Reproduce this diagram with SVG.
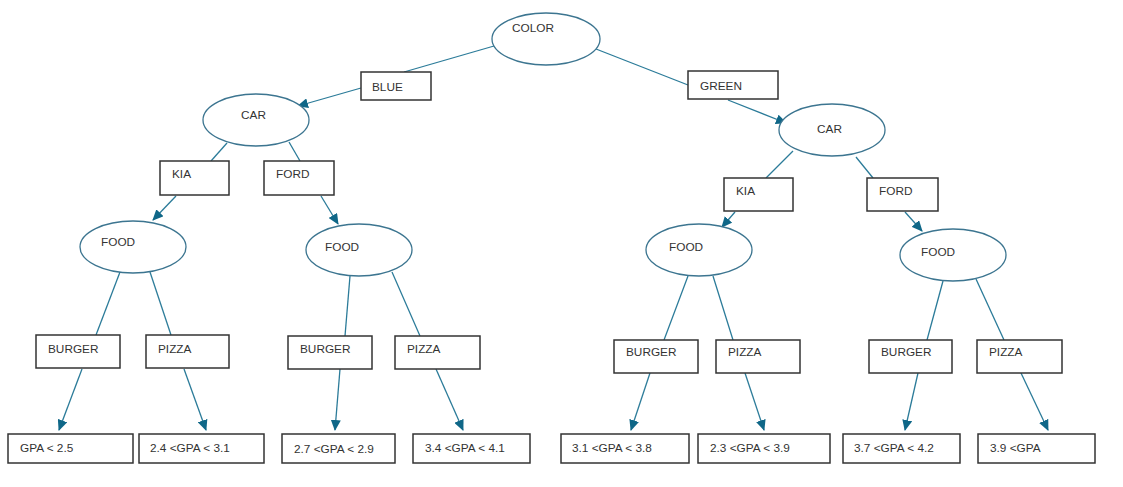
<svg xmlns="http://www.w3.org/2000/svg" width="1123" height="487" viewBox="0 0 1123 487">
<defs>
<style>
.e{fill:#fff;stroke:#3c7590;stroke-width:1.3}
.b{fill:#fff;stroke:#333;stroke-width:1.5}
.t{font-family:"Liberation Sans",Arial,sans-serif;font-size:11.8px;fill:#333}
.c line{stroke:#2b7b99;stroke-width:1.3}
.a{marker-end:url(#arr)}
</style>
<marker id="arr" markerWidth="11" markerHeight="10" refX="10" refY="5" orient="auto" markerUnits="userSpaceOnUse">
<path d="M0,0 L11,5 L0,10 Z" fill="#0f6788"/>
</marker>
</defs>
<rect width="1123" height="487" fill="#fff"/>
<g class="c" id="connectors">
<line x1="494" y1="46" x2="404" y2="72"/>
<line class="a" x1="361" y1="88" x2="298" y2="106"/>
<line x1="596" y1="49" x2="688" y2="85"/>
<line class="a" x1="728" y1="100" x2="786" y2="123"/>
<line x1="227" y1="143" x2="211" y2="161"/>
<line class="a" x1="176" y1="196" x2="153" y2="220"/>
<line x1="289" y1="142" x2="300" y2="161"/>
<line class="a" x1="321" y1="196" x2="338" y2="224"/>
<line x1="793" y1="151" x2="766" y2="178"/>
<line class="a" x1="735" y1="212" x2="722" y2="227"/>
<line x1="856" y1="157" x2="873" y2="178"/>
<line class="a" x1="905" y1="212" x2="922" y2="231"/>
<line x1="120" y1="272" x2="96" y2="335"/>
<line x1="150" y1="272" x2="171" y2="335"/>
<line class="a" x1="82" y1="369" x2="59" y2="430"/>
<line class="a" x1="184" y1="369" x2="206" y2="430"/>
<line x1="350" y1="276" x2="345" y2="336"/>
<line x1="392" y1="272" x2="420" y2="336"/>
<line class="a" x1="340" y1="369" x2="335" y2="430"/>
<line class="a" x1="436" y1="369" x2="463" y2="430"/>
<line x1="688" y1="276" x2="664" y2="340"/>
<line x1="713" y1="276" x2="733" y2="340"/>
<line class="a" x1="650" y1="373" x2="631" y2="430"/>
<line class="a" x1="745" y1="373" x2="764" y2="430"/>
<line x1="943" y1="281" x2="927" y2="340"/>
<line x1="976" y1="279" x2="1004" y2="340"/>
<line class="a" x1="918" y1="373" x2="905" y2="430"/>
<line class="a" x1="1021" y1="373" x2="1048" y2="430"/>
</g>
<g id="color"><ellipse class="e" cx="546" cy="39" rx="54" ry="26"/><text class="t" x="512" y="32">COLOR</text></g>
<g id="blue"><rect class="b" x="361" y="72" width="70" height="28"/><text class="t" x="372" y="91">BLUE</text></g>
<g id="green"><rect class="b" x="688" y="71" width="90" height="28"/><text class="t" x="700" y="90">GREEN</text></g>
<g id="car1"><ellipse class="e" cx="256" cy="120" rx="53" ry="26"/><text class="t" x="241" y="119">CAR</text></g>
<g id="car2"><ellipse class="e" cx="832" cy="130" rx="53" ry="26"/><text class="t" x="817" y="133">CAR</text></g>
<g id="kia1"><rect class="b" x="160" y="161" width="69" height="34"/><text class="t" x="172" y="178">KIA</text></g>
<g id="ford1"><rect class="b" x="264" y="161" width="70" height="34"/><text class="t" x="276" y="178">FORD</text></g>
<g id="kia2"><rect class="b" x="724" y="178" width="69" height="33"/><text class="t" x="736" y="195">KIA</text></g>
<g id="ford2"><rect class="b" x="867" y="178" width="71" height="33"/><text class="t" x="879" y="195">FORD</text></g>
<g id="food1"><ellipse class="e" cx="133" cy="247" rx="53" ry="26"/><text class="t" x="101" y="246">FOOD</text></g>
<g id="food2"><ellipse class="e" cx="359" cy="250" rx="53" ry="26"/><text class="t" x="325" y="251">FOOD</text></g>
<g id="food3"><ellipse class="e" cx="699" cy="250" rx="53" ry="26"/><text class="t" x="669" y="251">FOOD</text></g>
<g id="food4"><ellipse class="e" cx="953" cy="255" rx="53" ry="26"/><text class="t" x="921" y="256">FOOD</text></g>
<g id="burger1"><rect class="b" x="36" y="335" width="84" height="33"/><text class="t" x="48" y="353">BURGER</text></g>
<g id="pizza1"><rect class="b" x="146" y="335" width="83" height="33"/><text class="t" x="158" y="353">PIZZA</text></g>
<g id="burger2"><rect class="b" x="288" y="336" width="84" height="33"/><text class="t" x="300" y="353">BURGER</text></g>
<g id="pizza2"><rect class="b" x="395" y="336" width="85" height="33"/><text class="t" x="407" y="353">PIZZA</text></g>
<g id="burger3"><rect class="b" x="614" y="340" width="84" height="33"/><text class="t" x="626" y="356">BURGER</text></g>
<g id="pizza3"><rect class="b" x="716" y="340" width="84" height="33"/><text class="t" x="728" y="356">PIZZA</text></g>
<g id="burger4"><rect class="b" x="869" y="340" width="83" height="33"/><text class="t" x="881" y="356">BURGER</text></g>
<g id="pizza4"><rect class="b" x="977" y="340" width="85" height="33"/><text class="t" x="989" y="356">PIZZA</text></g>
<g id="gpa1"><rect class="b" x="8" y="434" width="125" height="29"/><text class="t" x="20" y="452">GPA &lt; 2.5</text></g>
<g id="gpa2"><rect class="b" x="139" y="434" width="125" height="29"/><text class="t" x="150" y="452">2.4 &lt;GPA &lt; 3.1</text></g>
<g id="gpa3"><rect class="b" x="282" y="434" width="113" height="29"/><text class="t" x="294" y="453">2.7 &lt;GPA &lt; 2.9</text></g>
<g id="gpa4"><rect class="b" x="413" y="434" width="117" height="29"/><text class="t" x="425" y="452">3.4 &lt;GPA &lt; 4.1</text></g>
<g id="gpa5"><rect class="b" x="561" y="434" width="128" height="29"/><text class="t" x="572" y="452">3.1 &lt;GPA &lt; 3.8</text></g>
<g id="gpa6"><rect class="b" x="698" y="434" width="132" height="29"/><text class="t" x="710" y="452">2.3 &lt;GPA &lt; 3.9</text></g>
<g id="gpa7"><rect class="b" x="843" y="434" width="117" height="29"/><text class="t" x="854" y="452">3.7 &lt;GPA &lt; 4.2</text></g>
<g id="gpa8"><rect class="b" x="978" y="434" width="117" height="29"/><text class="t" x="990" y="452">3.9 &lt;GPA</text></g>
</svg>
